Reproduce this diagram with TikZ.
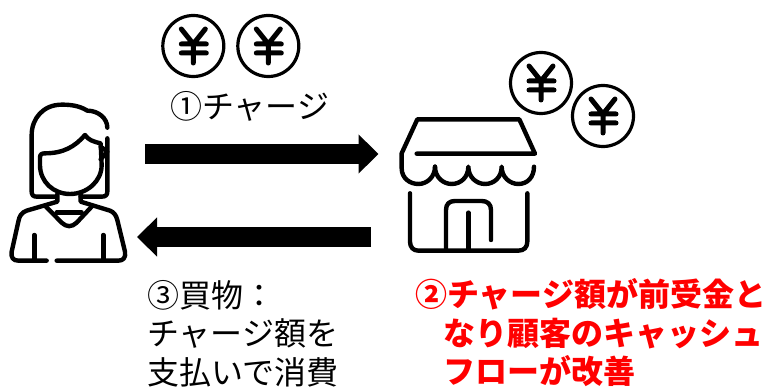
\documentclass[tikz,border=0pt]{standalone}
\usepackage{fontspec}
\setmainfont{Noto Sans CJK JP}
\usetikzlibrary{arrows.meta}
\definecolor{redtxt}{HTML}{FF0000}
\tikzset{
  icon/.style={line width=4.4pt,line cap=round,line join=round,black},
  bigarrow/.style={line width=20pt,-{Triangle[length=20pt,width=38pt]},black},
  coin/.pic={
    \draw[line width=3.2pt] (0,0) circle (30.5pt);
    \draw[line width=5pt,line cap=round,line join=round]
      (-12pt,17pt) -- (0,2pt) -- (12pt,17pt) (0,2pt) -- (0,-17pt)
      (-12pt,2pt) -- (13pt,2pt) (-12pt,-7pt) -- (13pt,-7pt);
  },
  lbl/.style={anchor=west,inner sep=0pt,font=\fontsize{32}{38.5}\selectfont,align=left},
  redlbl/.style={lbl,font=\fontsize{32}{38.5}\selectfont\bfseries,text=redtxt}
}
\begin{document}
\begin{tikzpicture}[x=1pt,y=-1pt]
\useasboundingbox (0,0) rectangle (767,387);
% coins
\pic at (193.3,46) {coin};
\pic at (268.3,46) {coin};
\pic at (541,83) {coin};
\pic at (603,116) {coin};
% arrows
\coordinate (ra) at (145,154);
\coordinate (rb) at (378.5,154);
\coordinate (la) at (371,237);
\coordinate (lb) at (137,237);
\draw[bigarrow] (ra) -- (rb);
\draw[bigarrow] (la) -- (lb);
% person
\begin{scope}[shift={(0,90)},x=0.3333pt,y=-0.3333pt,icon]
\draw (322,113) .. controls (322,85) and (295,62) .. (262,62)
  .. controls (235,45) and (205,44) .. (185,44)
  .. controls (130,44) and (95,85) .. (95,135) -- (95,305)
  .. controls (95,315) and (100,320) .. (110,320) -- (165,320);
\draw (322,145) -- (322,305) .. controls (322,315) and (317,320) .. (305,320) -- (242,320);
\draw (120,203) .. controls (120,193) and (125,190) .. (135,190)
  .. controls (190,190) and (225,170) .. (255,135)
  .. controls (265,150) and (280,155) .. (302,160)
  -- (305,225) .. controls (305,275) and (260,312) .. (210,312)
  .. controls (160,312) and (120,275) .. (120,225) -- cycle;
\draw (302,170) -- (322,185) -- (302,208);
\draw (172,312) -- (172,335) -- (80,362) .. controls (65,367) and (58,378) .. (55,395)
  -- (35,485) .. controls (32,503) and (40,512) .. (55,512) -- (140,512);
\draw (170,512) -- (355,512) .. controls (370,512) and (378,503) .. (375,485)
  -- (352,390) .. controls (348,375) and (342,367) .. (330,362) -- (242,335) -- (242,312);
\draw (138,350) -- (185,398) .. controls (200,412) and (215,412) .. (230,398) -- (275,350);
\draw (170,368) -- (245,368);
\draw (103,435) -- (103,512);
\draw (310,435) -- (310,512);
\end{scope}
% store
\begin{scope}[shift={(390,40)},x=0.3333pt,y=-0.3333pt,icon]
\draw (80,341) -- (435,341) -- (388,238) -- (82,238) -- (35,340) -- (35,385)
  .. controls (35,415) and (60,432) .. (85,432)
  .. controls (112,432) and (135,410) .. (135,380);
\draw (135,380) .. controls (135,412) and (160,432) .. (185,432)
  .. controls (212,432) and (235,412) .. (235,380)
  .. controls (235,412) and (260,432) .. (285,432)
  .. controls (312,432) and (335,412) .. (335,380)
  .. controls (335,412) and (360,432) .. (385,432)
  .. controls (412,432) and (432,412) .. (432,380);
\draw (60,460) -- (60,605) .. controls (60,622) and (70,632) .. (85,632) -- (385,632)
  .. controls (402,632) and (412,622) .. (412,605) -- (412,460);
\draw (168,632) -- (168,510) .. controls (168,492) and (178,483) .. (195,483) -- (275,483)
  .. controls (292,483) and (303,492) .. (303,510) -- (303,600);
\draw (235,518) -- (235,632);
\end{scope}
% labels
\node[lbl] (charge) at (170,106) {①チャージ};
\node[lbl,anchor=north west] (buy) at (147,280) {③買物：\\チャージ額を\\支払いで消費};
\node[redlbl,anchor=north west] (effect) at (415,278.5) {②チャージ額が前受金と\\\hspace*{28pt}なり顧客のキャッシュ\\\hspace*{28pt}フローが改善};
\end{tikzpicture}
\end{document}
